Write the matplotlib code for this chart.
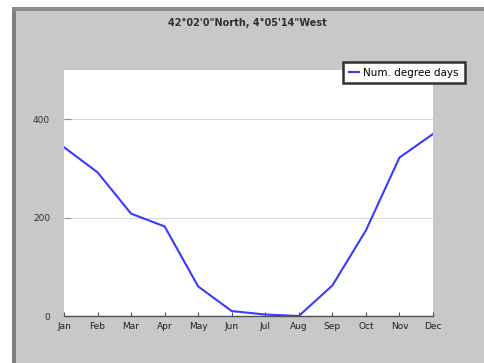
#!/usr/bin/env python3

import matplotlib
matplotlib.use("Agg")
import matplotlib.pyplot as plt
from matplotlib.patches import Rectangle
import numpy as np

months = ["Jan", "Feb", "Mar", "Apr", "May", "Jun",
          "Jul", "Aug", "Sep", "Oct", "Nov", "Dec"]
degree_days = [343, 292, 208, 182, 60, 10, 3, 0, 62, 174, 322, 370]
yticks = [0, 200, 400]
title = "42\u00b002'0\"North, 4\u00b005'14\"West"

fig = plt.figure(figsize=(4.84, 3.63), dpi=100, facecolor="white")

# grey window-like background with darker top/left edge
for r in [
    Rectangle((14 / 484, 0), 1, 1 - 9 / 363, facecolor="#c8c8c8"),
    Rectangle((12 / 484, 0), 4 / 484, 1 - 7 / 363, facecolor="#808080"),
    Rectangle((12 / 484, 1 - 11 / 363), 1, 4 / 363, facecolor="#8c8c8c"),
]:
    r.set_transform(fig.transFigure)
    r.set_edgecolor("none")
    r.set_zorder(-10)
    fig.add_artist(r)

ax = fig.add_axes([64 / 484, 47 / 363, 369 / 484, 246 / 363])
ax.set_facecolor("white")

x = np.arange(len(months))
ax.plot(x, degree_days, color="#3a3aff", lw=1.5, label="Num. degree days")

ax.set_xlim(0, len(months) - 1)
ax.set_ylim(0, 500)
ax.set_xticks(x)
ax.set_xticklabels(months)
ax.set_yticks(yticks)
ax.grid(axis="y", color="#d8d8d8", lw=0.8)
ax.set_axisbelow(True)

for s in ["top", "right", "left"]:
    ax.spines[s].set_visible(False)
ax.spines["bottom"].set_color("#505050")
ax.spines["bottom"].set_linewidth(1.0)

ax.tick_params(axis="x", direction="in", length=3, color="#505050",
               labelsize=6.5, pad=4, labelcolor="#202020")
ax.tick_params(axis="y", direction="in", length=5, color="#909090",
               labelsize=6.5, pad=10, labelcolor="#303030")

fig.text(247 / 484, 1 - 23 / 363, title, ha="center", va="center", fontsize=7,
         fontweight="bold", color="#303030")

leg = ax.legend(loc="upper left", bbox_to_anchor=(343 / 484, 1 - 62 / 363),
                bbox_transform=fig.transFigure, fontsize=7.5, frameon=True,
                fancybox=False, shadow=False, handlelength=1.0, handletextpad=0.4,
                borderpad=0.55, borderaxespad=0)
leg.get_frame().set_edgecolor("#303030")
leg.get_frame().set_linewidth(1.8)
leg.get_frame().set_alpha(1)

fig.savefig("out.png", dpi=100, facecolor=fig.get_facecolor())
